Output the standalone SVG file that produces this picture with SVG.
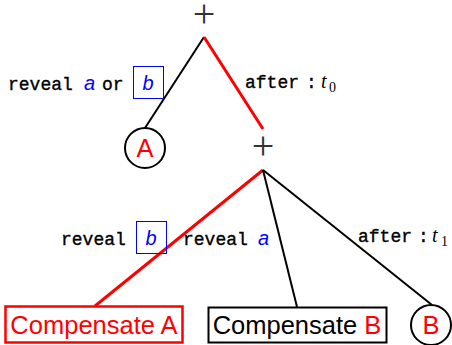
<svg xmlns="http://www.w3.org/2000/svg" width="452" height="345" viewBox="0 0 452 345">
<style>
.plus{font-family:"Liberation Serif",serif;font-size:40px;fill:#333;text-anchor:middle}
.mono{font-family:"Liberation Mono",monospace;font-size:18px;fill:#000;stroke:#000;stroke-width:0.35px}
.var{font-family:"Liberation Sans",sans-serif;font-style:italic;font-size:20px;fill:#00f}
.tm{font-family:"Liberation Serif",serif;font-style:italic;font-size:20px;fill:#000}
.sub{font-family:"Liberation Serif",serif;font-size:14px;fill:#000}
.big{font-family:"Liberation Sans",sans-serif;font-size:25.5px}
.red{fill:#f00}
.blk{fill:#000}
.vbox{fill:none;stroke:#00f;stroke-width:1}
.circ{fill:#fff;stroke:#000;stroke-width:2}
.e{stroke:#000;stroke-width:2;fill:none}
.er{stroke:#f00;stroke-width:3;fill:none}
</style>
<g id="connectors">
<line class="e" x1="204" y1="37" x2="145" y2="128"/>
<line class="er" x1="204" y1="37" x2="263" y2="129"/>
<line class="er" x1="263" y1="170" x2="95" y2="306"/>
<line class="e" x1="263" y1="170" x2="297" y2="307"/>
<line class="e" x1="263" y1="170" x2="432" y2="305"/>
</g>
<g id="labels">
<text class="mono" x="8" y="90">reveal</text>
<text class="var" x="84" y="90">a</text>
<text class="mono" x="102" y="90">or</text>
<rect class="vbox" x="133.5" y="66.5" width="30" height="32"/>
<text class="var" x="148" y="90" text-anchor="middle">b</text>
<text class="mono" x="245" y="88">after</text>
<text class="mono" x="306" y="88">:</text>
<text class="tm" x="321" y="88">t</text>
<text class="sub" x="329" y="92">0</text>
<text class="mono" x="61" y="245">reveal</text>
<rect class="vbox" x="136.5" y="221.5" width="30" height="32"/>
<text class="var" x="151" y="245" text-anchor="middle">b</text>
<text class="mono" x="183" y="245">reveal</text>
<text class="var" x="258" y="245">a</text>
<text class="mono" x="358" y="242">after</text>
<text class="mono" x="418" y="242">:</text>
<text class="tm" x="432" y="242">t</text>
<text class="sub" x="441" y="246">1</text>
</g>
<g id="root"><text class="plus" x="204" y="27">+</text></g>
<g id="nodeA"><circle class="circ" cx="145" cy="148" r="20"/><text class="big red" x="145" y="157" text-anchor="middle">A</text></g>
<g id="plus2"><text class="plus" x="263" y="159">+</text></g>
<g id="compA"><rect x="5.5" y="306.5" width="177" height="36" fill="#fff" stroke="#f00" stroke-width="2.5"/><text class="big red" x="94" y="334" text-anchor="middle">Compensate A</text></g>
<g id="compB"><rect x="208.5" y="307.5" width="178" height="35" fill="#fff" stroke="#000" stroke-width="2"/><text class="big" x="297" y="334" text-anchor="middle"><tspan class="blk">Compensate </tspan><tspan class="red">B</tspan></text></g>
<g id="nodeB"><circle class="circ" cx="431" cy="325" r="20"/><text class="big red" x="431" y="334" text-anchor="middle">B</text></g>
</svg>
